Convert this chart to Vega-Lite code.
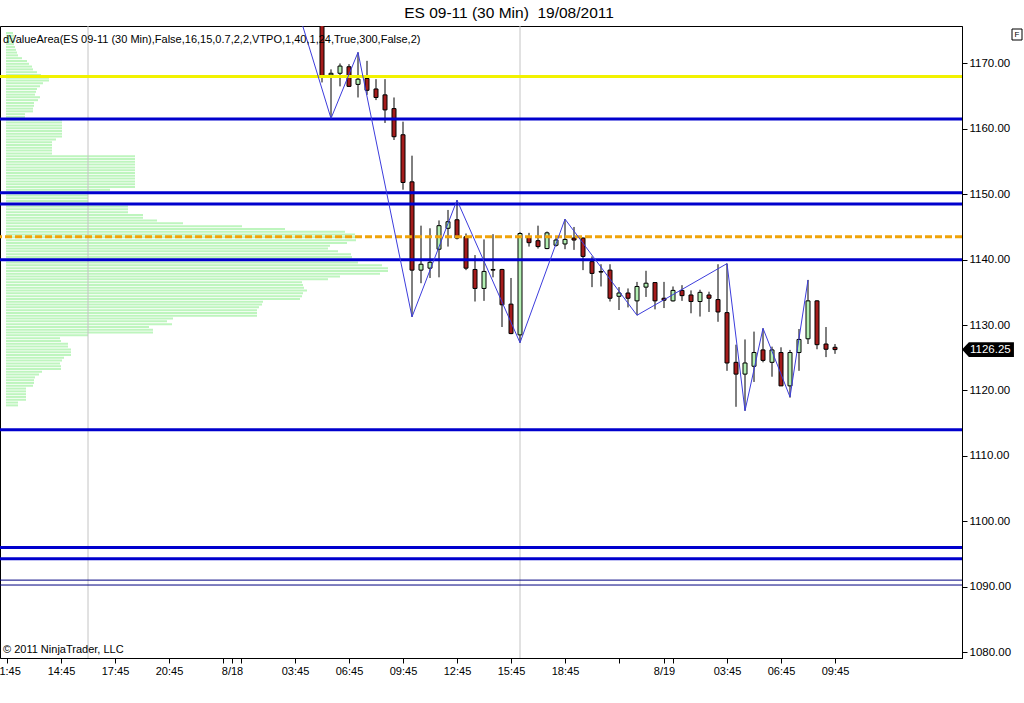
{
  "$schema": "https://vega.github.io/schema/vega-lite/v6.json",
  "width": 962,
  "height": 632,
  "autosize": {"type": "none"},
  "padding": {"left": 0, "top": 26, "right": 62, "bottom": 45},
  "background": "white",
  "title": {
    "text": "ES 09-11 (30 Min)\u00a0 19/08/2011",
    "font": "Liberation Sans",
    "fontSize": 15.5,
    "fontWeight": "normal",
    "color": "#000",
    "anchor": "middle",
    "baseline": "alphabetic",
    "offset": -8,
    "dx": 28
  },
  "config": {
    "view": {"stroke": "#000", "strokeWidth": 1},
    "axis": {"labelFont": "Liberation Sans", "labelColor": "#000", "domainColor": "#000", "tickColor": "#000", "grid": false, "title": null}
  },
  "datasets": {
    "bars": [
      {"t": "2011-08-18T05:15:00Z", "o": 1176.5, "h": 1177.0, "l": 1167.1, "c": 1168.0},
      {"t": "2011-08-18T05:45:00Z", "o": 1168.25, "h": 1169.1, "l": 1161.6, "c": 1168.5},
      {"t": "2011-08-18T06:15:00Z", "o": 1168.5, "h": 1170.0, "l": 1166.5, "c": 1169.6},
      {"t": "2011-08-18T06:45:00Z", "o": 1169.5, "h": 1169.9, "l": 1166.4, "c": 1166.5},
      {"t": "2011-08-18T07:15:00Z", "o": 1166.8, "h": 1171.7, "l": 1164.8, "c": 1167.6},
      {"t": "2011-08-18T07:45:00Z", "o": 1167.7, "h": 1170.4, "l": 1165.2, "c": 1165.9},
      {"t": "2011-08-18T08:15:00Z", "o": 1166.1, "h": 1167.6, "l": 1164.4, "c": 1164.8},
      {"t": "2011-08-18T08:45:00Z", "o": 1165.2, "h": 1167.6, "l": 1160.9, "c": 1162.9},
      {"t": "2011-08-18T09:15:00Z", "o": 1163.1, "h": 1164.8, "l": 1158.3, "c": 1158.8},
      {"t": "2011-08-18T09:45:00Z", "o": 1159.1, "h": 1161.1, "l": 1150.7, "c": 1151.8},
      {"t": "2011-08-18T10:15:00Z", "o": 1151.9, "h": 1155.9, "l": 1131.25, "c": 1138.4},
      {"t": "2011-08-18T10:45:00Z", "o": 1138.4, "h": 1145.2, "l": 1136.4, "c": 1139.3},
      {"t": "2011-08-18T11:15:00Z", "o": 1138.7, "h": 1144.8, "l": 1137.2, "c": 1139.6},
      {"t": "2011-08-18T11:45:00Z", "o": 1141.6, "h": 1146.0, "l": 1137.3, "c": 1145.2},
      {"t": "2011-08-18T12:15:00Z", "o": 1144.8, "h": 1147.6, "l": 1142.0, "c": 1145.8},
      {"t": "2011-08-18T12:45:00Z", "o": 1146.1, "h": 1149.1, "l": 1143.1, "c": 1143.3},
      {"t": "2011-08-18T13:15:00Z", "o": 1143.5, "h": 1144.0, "l": 1138.4, "c": 1138.7},
      {"t": "2011-08-18T13:45:00Z", "o": 1138.5, "h": 1140.7, "l": 1133.6, "c": 1135.6},
      {"t": "2011-08-18T14:15:00Z", "o": 1135.6, "h": 1143.1, "l": 1133.7, "c": 1138.2},
      {"t": "2011-08-18T14:45:00Z", "o": 1138.5, "h": 1143.9, "l": 1137.3, "c": 1138.4},
      {"t": "2011-08-18T15:15:00Z", "o": 1138.5, "h": 1138.6, "l": 1129.7, "c": 1133.1},
      {"t": "2011-08-18T15:45:00Z", "o": 1133.2, "h": 1137.2, "l": 1128.6, "c": 1128.7},
      {"t": "2011-08-18T16:15:00Z", "o": 1128.5, "h": 1144.2, "l": 1127.3, "c": 1144.0},
      {"t": "2011-08-18T16:45:00Z", "o": 1143.4, "h": 1144.1, "l": 1142.0, "c": 1142.6},
      {"t": "2011-08-18T17:15:00Z", "o": 1142.9, "h": 1145.2, "l": 1141.7, "c": 1142.0},
      {"t": "2011-08-18T17:45:00Z", "o": 1141.7, "h": 1144.3, "l": 1141.6, "c": 1144.1},
      {"t": "2011-08-18T18:15:00Z", "o": 1142.2, "h": 1143.5, "l": 1142.0, "c": 1143.0},
      {"t": "2011-08-18T18:45:00Z", "o": 1142.4, "h": 1146.2, "l": 1141.6, "c": 1143.1},
      {"t": "2011-08-18T19:15:00Z", "o": 1143.3, "h": 1145.0, "l": 1141.5, "c": 1143.0},
      {"t": "2011-08-18T19:45:00Z", "o": 1143.3, "h": 1143.4, "l": 1138.4, "c": 1140.5},
      {"t": "2011-08-18T20:15:00Z", "o": 1139.7, "h": 1140.5, "l": 1135.8, "c": 1137.9},
      {"t": "2011-08-18T20:45:00Z", "o": 1138.2, "h": 1139.3, "l": 1135.9, "c": 1138.1},
      {"t": "2011-08-18T21:15:00Z", "o": 1138.4, "h": 1139.3, "l": 1133.6, "c": 1134.1},
      {"t": "2011-08-18T21:45:00Z", "o": 1134.4, "h": 1135.8, "l": 1132.3, "c": 1134.9},
      {"t": "2011-08-18T22:15:00Z", "o": 1134.9, "h": 1135.6, "l": 1132.7, "c": 1134.1},
      {"t": "2011-08-18T22:45:00Z", "o": 1133.7, "h": 1136.6, "l": 1131.5, "c": 1135.9},
      {"t": "2011-08-18T23:15:00Z", "o": 1135.8, "h": 1138.3, "l": 1134.3, "c": 1136.4},
      {"t": "2011-08-18T23:45:00Z", "o": 1136.5, "h": 1136.5, "l": 1132.4, "c": 1133.7},
      {"t": "2011-08-19T00:15:00Z", "o": 1134.1, "h": 1136.6, "l": 1132.6, "c": 1133.8},
      {"t": "2011-08-19T00:45:00Z", "o": 1133.7, "h": 1135.9, "l": 1133.6, "c": 1135.3},
      {"t": "2011-08-19T01:15:00Z", "o": 1135.3, "h": 1136.1, "l": 1133.7, "c": 1134.5},
      {"t": "2011-08-19T01:45:00Z", "o": 1134.6, "h": 1135.3, "l": 1131.8, "c": 1133.6},
      {"t": "2011-08-19T02:15:00Z", "o": 1133.6, "h": 1135.4, "l": 1131.3, "c": 1135.0},
      {"t": "2011-08-19T02:45:00Z", "o": 1134.6, "h": 1135.1, "l": 1132.0, "c": 1134.1},
      {"t": "2011-08-19T03:15:00Z", "o": 1133.9, "h": 1139.3, "l": 1130.5, "c": 1132.0},
      {"t": "2011-08-19T03:45:00Z", "o": 1131.9, "h": 1139.4, "l": 1123.0, "c": 1124.2},
      {"t": "2011-08-19T04:15:00Z", "o": 1124.3, "h": 1127.0, "l": 1117.5, "c": 1122.5},
      {"t": "2011-08-19T04:45:00Z", "o": 1122.5, "h": 1127.8, "l": 1116.9, "c": 1124.2},
      {"t": "2011-08-19T05:15:00Z", "o": 1123.7, "h": 1129.0, "l": 1121.3, "c": 1125.8},
      {"t": "2011-08-19T05:45:00Z", "o": 1126.2, "h": 1129.5, "l": 1124.3, "c": 1124.6},
      {"t": "2011-08-19T06:15:00Z", "o": 1124.3, "h": 1126.7, "l": 1122.1, "c": 1126.2},
      {"t": "2011-08-19T06:45:00Z", "o": 1125.8, "h": 1126.6, "l": 1120.7, "c": 1120.7},
      {"t": "2011-08-19T07:15:00Z", "o": 1120.7, "h": 1126.2, "l": 1118.9, "c": 1125.8},
      {"t": "2011-08-19T07:45:00Z", "o": 1125.8, "h": 1129.4, "l": 1123.0, "c": 1127.8},
      {"t": "2011-08-19T08:15:00Z", "o": 1127.9, "h": 1136.9, "l": 1127.1, "c": 1133.7},
      {"t": "2011-08-19T08:45:00Z", "o": 1133.7, "h": 1133.8, "l": 1126.3, "c": 1127.0},
      {"t": "2011-08-19T09:15:00Z", "o": 1127.1, "h": 1129.7, "l": 1125.1, "c": 1126.3},
      {"t": "2011-08-19T09:45:00Z", "o": 1126.6, "h": 1127.1, "l": 1125.6, "c": 1126.25}
    ],
    "zigzag": [
      {"t": "2011-08-18T03:45:00Z", "p": 1179.6},
      {"t": "2011-08-18T05:45:00Z", "p": 1161.6},
      {"t": "2011-08-18T07:15:00Z", "p": 1171.7},
      {"t": "2011-08-18T10:15:00Z", "p": 1131.25},
      {"t": "2011-08-18T12:45:00Z", "p": 1149.1},
      {"t": "2011-08-18T16:15:00Z", "p": 1127.3},
      {"t": "2011-08-18T18:45:00Z", "p": 1146.2},
      {"t": "2011-08-18T22:45:00Z", "p": 1131.5},
      {"t": "2011-08-19T03:45:00Z", "p": 1139.4},
      {"t": "2011-08-19T04:45:00Z", "p": 1116.9},
      {"t": "2011-08-19T05:45:00Z", "p": 1129.5},
      {"t": "2011-08-19T07:15:00Z", "p": 1119.0},
      {"t": "2011-08-19T08:15:00Z", "p": 1136.9}
    ],
    "sessions": [
      {"t": "2011-08-17T16:15:00Z"},
      {"t": "2011-08-18T16:15:00Z"}
    ],
    "va": [
      {"p": 1161.5}, {"p": 1150.25}, {"p": 1148.5}, {"p": 1140.0},
      {"p": 1114.0}, {"p": 1096.0}, {"p": 1094.25}
    ],
    "hi": [{"p": 1168.0}],
    "poc": [{"p": 1143.5}],
    "thin": [{"p": 1091.0}, {"p": 1090.25}],
    "indicator": [{"name": "dValueArea(ES 09-11 (30 Min),False,16,15,0.7,2,2,VTPO,1,40,1,24,True,300,False,2)"}],
    "copyright": [{"name": "\u00a9 2011 NinjaTrader, LLC"}],
    "last": [{"price": 1126.25}],
    "profile": [
      {"p": 1174.66, "v": 7}, {"p": 1174.24, "v": 8}, {"p": 1173.81, "v": 8}, {"p": 1173.38, "v": 9},
      {"p": 1172.95, "v": 8}, {"p": 1172.52, "v": 9}, {"p": 1172.09, "v": 10}, {"p": 1171.67, "v": 11},
      {"p": 1171.24, "v": 12}, {"p": 1170.81, "v": 16}, {"p": 1170.38, "v": 21}, {"p": 1169.95, "v": 23},
      {"p": 1169.53, "v": 26}, {"p": 1169.10, "v": 27}, {"p": 1168.67, "v": 31}, {"p": 1168.24, "v": 35},
      {"p": 1167.81, "v": 43}, {"p": 1167.39, "v": 43}, {"p": 1166.96, "v": 37}, {"p": 1166.53, "v": 34},
      {"p": 1166.10, "v": 31}, {"p": 1165.67, "v": 30}, {"p": 1165.24, "v": 29}, {"p": 1164.82, "v": 34},
      {"p": 1164.39, "v": 32}, {"p": 1163.96, "v": 28}, {"p": 1163.53, "v": 28}, {"p": 1163.10, "v": 27},
      {"p": 1162.68, "v": 27}, {"p": 1162.25, "v": 19}, {"p": 1161.82, "v": 19}, {"p": 1161.39, "v": 56},
      {"p": 1160.96, "v": 56}, {"p": 1160.53, "v": 56}, {"p": 1160.11, "v": 56}, {"p": 1159.68, "v": 56},
      {"p": 1159.25, "v": 56}, {"p": 1158.82, "v": 56}, {"p": 1158.39, "v": 50}, {"p": 1157.97, "v": 46},
      {"p": 1157.54, "v": 46}, {"p": 1157.11, "v": 46}, {"p": 1156.68, "v": 46}, {"p": 1156.25, "v": 46},
      {"p": 1155.83, "v": 129}, {"p": 1155.40, "v": 129}, {"p": 1154.97, "v": 129}, {"p": 1154.54, "v": 129},
      {"p": 1154.11, "v": 129}, {"p": 1153.69, "v": 129}, {"p": 1153.26, "v": 129}, {"p": 1152.83, "v": 129},
      {"p": 1152.40, "v": 129}, {"p": 1151.97, "v": 129}, {"p": 1151.54, "v": 129}, {"p": 1151.12, "v": 129},
      {"p": 1150.69, "v": 104}, {"p": 1150.26, "v": 82}, {"p": 1149.83, "v": 82}, {"p": 1149.40, "v": 82},
      {"p": 1148.98, "v": 82}, {"p": 1148.55, "v": 82}, {"p": 1148.12, "v": 122}, {"p": 1147.69, "v": 122},
      {"p": 1147.26, "v": 122}, {"p": 1146.84, "v": 137}, {"p": 1146.41, "v": 137}, {"p": 1145.98, "v": 151},
      {"p": 1145.55, "v": 177}, {"p": 1145.12, "v": 236}, {"p": 1144.69, "v": 279}, {"p": 1144.27, "v": 339},
      {"p": 1143.84, "v": 349}, {"p": 1143.41, "v": 350}, {"p": 1142.98, "v": 350}, {"p": 1142.55, "v": 341},
      {"p": 1142.13, "v": 324}, {"p": 1141.70, "v": 322}, {"p": 1141.27, "v": 332}, {"p": 1140.84, "v": 345},
      {"p": 1140.41, "v": 346}, {"p": 1139.99, "v": 346}, {"p": 1139.56, "v": 352}, {"p": 1139.13, "v": 376},
      {"p": 1138.70, "v": 382}, {"p": 1138.27, "v": 382}, {"p": 1137.84, "v": 374}, {"p": 1137.42, "v": 334},
      {"p": 1136.99, "v": 322}, {"p": 1136.56, "v": 296}, {"p": 1136.13, "v": 297}, {"p": 1135.70, "v": 298},
      {"p": 1135.28, "v": 301}, {"p": 1134.85, "v": 297}, {"p": 1134.42, "v": 296}, {"p": 1133.99, "v": 294},
      {"p": 1133.56, "v": 257}, {"p": 1133.14, "v": 256}, {"p": 1132.71, "v": 253}, {"p": 1132.28, "v": 251},
      {"p": 1131.85, "v": 251}, {"p": 1131.42, "v": 251}, {"p": 1130.99, "v": 167}, {"p": 1130.57, "v": 161},
      {"p": 1130.14, "v": 166}, {"p": 1129.71, "v": 143}, {"p": 1129.28, "v": 147}, {"p": 1128.85, "v": 147},
      {"p": 1128.43, "v": 82}, {"p": 1128.00, "v": 54}, {"p": 1127.57, "v": 55}, {"p": 1127.14, "v": 62},
      {"p": 1126.71, "v": 62}, {"p": 1126.28, "v": 65}, {"p": 1125.86, "v": 65}, {"p": 1125.43, "v": 65},
      {"p": 1125.00, "v": 58}, {"p": 1124.57, "v": 56}, {"p": 1124.14, "v": 54}, {"p": 1123.72, "v": 55},
      {"p": 1123.29, "v": 55}, {"p": 1122.86, "v": 36}, {"p": 1122.43, "v": 33}, {"p": 1122.00, "v": 29},
      {"p": 1121.57, "v": 28}, {"p": 1121.15, "v": 28}, {"p": 1120.72, "v": 27}, {"p": 1120.29, "v": 20},
      {"p": 1119.86, "v": 20}, {"p": 1119.43, "v": 20}, {"p": 1119.01, "v": 20}, {"p": 1118.58, "v": 20},
      {"p": 1118.15, "v": 12}, {"p": 1117.72, "v": 12}
    ]
  },
  "resolve": {"scale": {"x": "independent"}},
  "layer": [
    {
      "data": {"name": "profile"},
      "mark": {"type": "bar", "orient": "horizontal", "size": 2, "color": "#bef5be", "clip": true},
      "encoding": {
        "x": {"field": "v", "type": "quantitative", "stack": null, "scale": {"domain": [-6, 956], "nice": false, "zero": false, "padding": 0}, "axis": null},
        "y": {"field": "p", "type": "quantitative", "scale": {"domain": [1079.09, 1175.73], "nice": false, "zero": false, "padding": 0}}
      }
    },
    {
      "layer": [
        {
          "data": {"name": "sessions"},
          "mark": {"type": "rule", "color": "#c4c4c4", "strokeWidth": 1},
          "encoding": {
            "x": {"field": "t", "type": "temporal", "scale": {"type": "utc", "padding": 0, "domain": [{"year": 2011, "month": 8, "date": 17, "hours": 11, "minutes": 21, "seconds": 40, "utc": true}, {"year": 2011, "month": 8, "date": 19, "hours": 16, "minutes": 48, "seconds": 20, "utc": true}]}}
          }
        },
        {
          "data": {"name": "bars"},
          "mark": {"type": "rule", "color": "#000", "strokeWidth": 1, "clip": true},
          "encoding": {
            "x": {
              "field": "t", "type": "temporal",
              "axis": {
                "title": null, "orient": "bottom",
                "values": [
                  {"year": 2011, "month": 8, "date": 17, "hours": 11, "minutes": 45, "utc": true},
                  {"year": 2011, "month": 8, "date": 17, "hours": 14, "minutes": 45, "utc": true},
                  {"year": 2011, "month": 8, "date": 17, "hours": 17, "minutes": 45, "utc": true},
                  {"year": 2011, "month": 8, "date": 17, "hours": 20, "minutes": 45, "utc": true},
                  {"year": 2011, "month": 8, "date": 17, "hours": 23, "minutes": 45, "utc": true},
                  {"year": 2011, "month": 8, "date": 18, "hours": 0, "minutes": 15, "utc": true},
                  {"year": 2011, "month": 8, "date": 18, "hours": 0, "minutes": 45, "utc": true},
                  {"year": 2011, "month": 8, "date": 18, "hours": 3, "minutes": 45, "utc": true},
                  {"year": 2011, "month": 8, "date": 18, "hours": 6, "minutes": 45, "utc": true},
                  {"year": 2011, "month": 8, "date": 18, "hours": 9, "minutes": 45, "utc": true},
                  {"year": 2011, "month": 8, "date": 18, "hours": 12, "minutes": 45, "utc": true},
                  {"year": 2011, "month": 8, "date": 18, "hours": 15, "minutes": 45, "utc": true},
                  {"year": 2011, "month": 8, "date": 18, "hours": 18, "minutes": 45, "utc": true},
                  {"year": 2011, "month": 8, "date": 18, "hours": 21, "minutes": 45, "utc": true},
                  {"year": 2011, "month": 8, "date": 19, "hours": 0, "minutes": 15, "utc": true},
                  {"year": 2011, "month": 8, "date": 19, "hours": 0, "minutes": 45, "utc": true},
                  {"year": 2011, "month": 8, "date": 19, "hours": 3, "minutes": 45, "utc": true},
                  {"year": 2011, "month": 8, "date": 19, "hours": 6, "minutes": 45, "utc": true},
                  {"year": 2011, "month": 8, "date": 19, "hours": 9, "minutes": 45, "utc": true}
                ],
                "labelExpr": "utcFormat(datum.value, '%H:%M') == '00:15' ? utcFormat(datum.value, '%-m/%-d') : (indexof(['23:45', '00:45', '21:45'], utcFormat(datum.value, '%H:%M')) >= 0 ? '' : utcFormat(datum.value, '%H:%M'))",
                "labelOverlap": false, "labelFlush": false, "labelBound": false,
                "tickSize": 5, "labelPadding": 2, "labelFontSize": 11
              }
            },
            "y": {
              "field": "l", "type": "quantitative",
              "axis": {
                "title": null, "orient": "right",
                "values": [1080, 1085, 1090, 1095, 1100, 1105, 1110, 1115, 1120, 1125, 1130, 1135, 1140, 1145, 1150, 1155, 1160, 1165, 1170],
                "format": ".2f", "tickSize": 5, "labelPadding": 2, "labelFontSize": 11.5, "labelOverlap": false
              }
            },
            "y2": {"field": "h"}
          }
        },
        {
          "data": {"name": "bars"},
          "mark": {"type": "bar", "size": 4, "stroke": "#000", "strokeWidth": 1, "clip": true},
          "encoding": {
            "x": {"field": "t", "type": "temporal"},
            "y": {"field": "o", "type": "quantitative"},
            "y2": {"field": "c"},
            "fill": {"condition": {"test": "datum.c < datum.o", "value": "#a51c1c"}, "value": "#b4f0b4"}
          }
        },
        {
          "data": {"name": "hi"},
          "mark": {"type": "rule", "color": "#f2f200", "strokeWidth": 3},
          "encoding": {"y": {"field": "p", "type": "quantitative"}}
        },
        {
          "data": {"name": "va"},
          "mark": {"type": "rule", "color": "#0000cd", "strokeWidth": 3},
          "encoding": {"y": {"field": "p", "type": "quantitative"}}
        },
        {
          "data": {"name": "poc"},
          "mark": {"type": "rule", "color": "#f0a30a", "strokeWidth": 3, "strokeDash": [7, 3]},
          "encoding": {"y": {"field": "p", "type": "quantitative"}}
        },
        {
          "data": {"name": "thin"},
          "mark": {"type": "rule", "color": "#000080", "strokeWidth": 1},
          "encoding": {"y": {"field": "p", "type": "quantitative"}}
        },
        {
          "data": {"name": "zigzag"},
          "mark": {"type": "line", "color": "#3c3cdc", "strokeWidth": 1, "clip": true},
          "encoding": {
            "x": {"field": "t", "type": "temporal"},
            "y": {"field": "p", "type": "quantitative"}
          }
        },
        {
          "data": {"name": "indicator"},
          "mark": {"type": "text", "align": "left", "baseline": "middle", "dx": 3, "font": "Liberation Sans", "fontSize": 11, "color": "#000"},
          "encoding": {
            "x": {"datum": {"year": 2011, "month": 8, "date": 17, "hours": 11, "minutes": 21, "seconds": 40, "utc": true}, "type": "temporal"},
            "y": {"datum": 1173.6, "type": "quantitative"},
            "text": {"field": "name"}
          }
        },
        {
          "data": {"name": "copyright"},
          "mark": {"type": "text", "align": "left", "baseline": "middle", "dx": 3, "font": "Liberation Sans", "fontSize": 11, "color": "#000"},
          "encoding": {
            "x": {"datum": {"year": 2011, "month": 8, "date": 17, "hours": 11, "minutes": 21, "seconds": 40, "utc": true}, "type": "temporal"},
            "y": {"datum": 1080.3, "type": "quantitative"},
            "text": {"field": "name"}
          }
        },
        {
          "data": {"name": "last"},
          "mark": {"type": "point", "shape": "M0,0L0.26,-0.28L1.96,-0.28L1.96,0.28L0.26,0.28Z", "size": 2809, "filled": true, "color": "#000", "opacity": 1},
          "encoding": {
            "x": {"datum": {"year": 2011, "month": 8, "date": 19, "hours": 16, "minutes": 48, "seconds": 20, "utc": true}, "type": "temporal"},
            "y": {"field": "price", "type": "quantitative"}
          }
        },
        {
          "data": {"name": "last"},
          "mark": {"type": "text", "align": "left", "baseline": "middle", "dx": 8, "font": "Liberation Sans", "fontSize": 11.5, "color": "#fff"},
          "encoding": {
            "x": {"datum": {"year": 2011, "month": 8, "date": 19, "hours": 16, "minutes": 48, "seconds": 20, "utc": true}, "type": "temporal"},
            "y": {"field": "price", "type": "quantitative"},
            "text": {"field": "price", "format": ".2f"}
          }
        },
        {
          "data": {"name": "last"},
          "mark": {"type": "point", "shape": "M5,0.3H6V1.4H5Z", "size": 400, "filled": false, "color": "#000", "strokeWidth": 1, "opacity": 1},
          "encoding": {
            "x": {"datum": {"year": 2011, "month": 8, "date": 19, "hours": 16, "minutes": 48, "seconds": 20, "utc": true}, "type": "temporal"},
            "y": {"datum": 1175.73, "type": "quantitative"}
          }
        },
        {
          "data": {"name": "last"},
          "mark": {"type": "text", "align": "center", "baseline": "middle", "dx": 55, "dy": 8.5, "font": "Liberation Sans", "fontSize": 8, "color": "#000"},
          "encoding": {
            "x": {"datum": {"year": 2011, "month": 8, "date": 19, "hours": 16, "minutes": 48, "seconds": 20, "utc": true}, "type": "temporal"},
            "y": {"datum": 1175.73, "type": "quantitative"},
            "text": {"value": "F"}
          }
        }
      ]
    }
  ]
}
